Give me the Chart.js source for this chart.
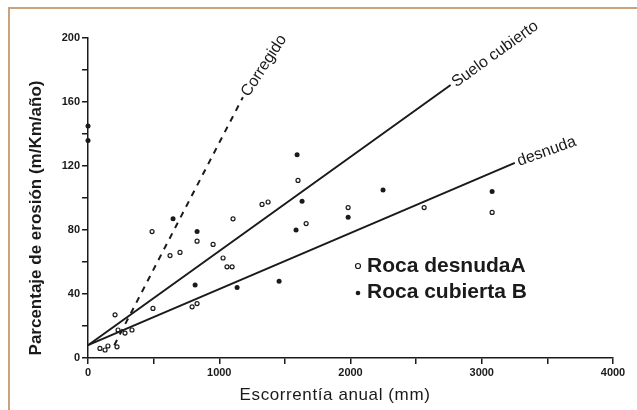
<!DOCTYPE html>
<html lang="es">
<head>
<meta charset="UTF-8">
<script src="https://cdn.jsdelivr.net/npm/chart.js@4.4.1/dist/chart.umd.min.js"></script>
<title>Erosión</title>
<style>
body { margin: 0; background: #fff; }
#wrap { position: relative; width: 637px; height: 410px; }
#frame {
    position: absolute; left: 8px; top: 7px; right: 0; bottom: 0;
    border-top: 2px solid #c9a47a; border-left: 2px solid #c9a47a;
    pointer-events: none;
}
</style>
</head>
<body>
<div id="wrap">
    <canvas id="chart" width="637" height="410"></canvas>
    <div id="frame"></div>
</div>
<script>
// ejes
var xTicks = [0, 1000, 2000, 3000, 4000];
var yTicks = [0, 40, 80, 120, 160, 200];

// rectas (x en mm, y en m/Km/año)
var corregidoX = [200, 1180];
var corregidoY = [8, 163];
var cubiertoX = [0, 2763];
var cubiertoY = [8, 170.6];
var desnudaX = [0, 3252];
var desnudaY = [8, 122];

// puntos
var rocaDesnudaA = [
    [206, 27], [229, 17.5], [282, 15.6], [335, 17.5], [221, 7], [130, 5], [152, 7.5], [91, 6],
    [495, 31], [793, 32], [831, 34], [488, 79], [625, 64], [701, 66], [953, 71], [1029, 62.5],
    [1059, 57], [1098, 57], [831, 73], [1105, 87], [1326, 96], [1372, 97.5], [1600, 111],
    [1982, 94], [1662, 84], [3079, 91], [2561, 94]
];
var rocaCubiertaB = [
    [0, 145], [0, 136], [648, 87], [816, 45.6], [831, 79], [1136, 44], [1593, 127], [1631, 98],
    [1585, 80], [1456, 48], [1982, 88], [2248, 105], [3079, 104]
];

var lineLabels = ["Corregido", "Suelo cubierto", "desnuda"];
var legendLabels = ["Roca desnudaA", "Roca cubierta B"];
var xTitle = "Escorrentía anual (mm)";
var yTitle = "Parcentaje de erosión (m/Km/año)";

function pairs(xs, ys) {
    var out = [];
    for (var i = 0; i < xs.length; i++) out.push({x: xs[i], y: ys[i]});
    return out;
}
function pts(arr) {
    return arr.map(function (p) { return {x: p[0], y: p[1]}; });
}

var ink = "#1a1a1a";
var fontFam = "'Liberation Sans', Arial, sans-serif";

var extras = {
    id: 'extras',
    afterDraw: function (chart) {
        var ctx = chart.ctx;
        var xs = chart.scales.x, ys = chart.scales.y;
        ctx.save();
        ctx.fillStyle = ink;

        // etiquetas de las rectas
        var lbl = [
            {i: 0, size: 16, dx: 2, dy: -2, extra: 0.1},
            {i: 1, size: 16, dx: 3, dy: -1, extra: 0},
            {i: 2, size: 16, dx: 3, dy: -1, extra: 0.06}
        ];
        lbl.forEach(function (l) {
            var d = chart.data.datasets[l.i].data;
            var a = d[0], b = d[d.length - 1];
            var x0 = xs.getPixelForValue(a.x), y0 = ys.getPixelForValue(a.y);
            var x1 = xs.getPixelForValue(b.x), y1 = ys.getPixelForValue(b.y);
            var ang = Math.atan2(y1 - y0, x1 - x0) + l.extra;
            ctx.save();
            ctx.translate(x1 + l.dx, y1 + l.dy);
            ctx.rotate(ang);
            ctx.font = l.size + "px " + fontFam;
            ctx.textAlign = "left";
            ctx.textBaseline = "middle";
            ctx.fillText(lineLabels[l.i], 0, 0);
            ctx.restore();
        });

        // leyenda
        ctx.font = "bold 21px " + fontFam;
        ctx.textBaseline = "middle";
        ctx.textAlign = "left";
        ctx.fillText(legendLabels[0], 367, 266);
        ctx.fillText(legendLabels[1], 367, 292);
        ctx.beginPath();
        ctx.arc(358, 266, 2.5, 0, Math.PI * 2);
        ctx.lineWidth = 1.2;
        ctx.strokeStyle = ink;
        ctx.stroke();
        ctx.beginPath();
        ctx.arc(358, 293, 2.3, 0, Math.PI * 2);
        ctx.fill();

        // títulos de los ejes
        ctx.font = "17px " + fontFam;
        ctx.letterSpacing = "0.6px";
        ctx.textAlign = "center";
        ctx.fillText(xTitle, 335, 395);
        ctx.letterSpacing = "0px";
        ctx.save();
        ctx.translate(36, 218);
        ctx.rotate(-Math.PI / 2);
        ctx.font = "bold 17px " + fontFam;
        ctx.fillText(yTitle, 0, 0);
        ctx.restore();

        ctx.restore();
    }
};

var lineStyle = {showLine: true, pointRadius: 0, borderColor: ink, borderWidth: 2, clip: false, fill: false};

new Chart(document.getElementById("chart"), {
    type: 'scatter',
    data: {
        datasets: [
            Object.assign({label: lineLabels[0], data: pairs(corregidoX, corregidoY), borderDash: [6, 6]}, lineStyle),
            Object.assign({label: lineLabels[1], data: pairs(cubiertoX, cubiertoY)}, lineStyle),
            Object.assign({label: lineLabels[2], data: pairs(desnudaX, desnudaY)}, lineStyle),
            {
                label: legendLabels[0], data: pts(rocaDesnudaA), pointRadius: 2,
                pointBackgroundColor: "#fff", pointBorderColor: ink, pointBorderWidth: 1.2, clip: false
            },
            {
                label: legendLabels[1], data: pts(rocaCubiertaB), pointRadius: 2.5,
                pointBackgroundColor: ink, pointBorderColor: ink, pointBorderWidth: 0, clip: false
            }
        ]
    },
    options: {
        responsive: false,
        animation: false,
        devicePixelRatio: 1,
        layout: {padding: {top: 38, right: 24, left: 0, bottom: 0}},
        plugins: {legend: {display: false}, tooltip: {enabled: false}},
        scales: {
            x: {
                type: 'linear', min: 0, max: 4000,
                afterFit: function (s) { s.height = 52; },
                afterBuildTicks: function (s) {
                    var t = [];
                    for (var v = 0; v <= 4000; v += 500) t.push({value: v});
                    s.ticks = t;
                },
                ticks: {
                    autoSkip: false, maxRotation: 0, padding: 2, color: ink,
                    font: {size: 11, family: fontFam, weight: 'bold'},
                    callback: function (v) { return xTicks.indexOf(v) >= 0 ? String(v) : ''; }
                },
                grid: {drawOnChartArea: false, tickLength: 6, color: ink, lineWidth: 1.5},
                border: {color: ink, width: 1.5}
            },
            y: {
                min: 0, max: 200,
                afterFit: function (s) { s.width = 88; },
                afterBuildTicks: function (s) {
                    var t = [];
                    for (var v = 0; v <= 200; v += 20) t.push({value: v});
                    s.ticks = t;
                },
                ticks: {
                    autoSkip: false, padding: 2, color: ink,
                    font: {size: 11, family: fontFam, weight: 'bold'},
                    callback: function (v) { return yTicks.indexOf(v) >= 0 ? String(v) : ''; }
                },
                grid: {drawOnChartArea: false, tickLength: 6, color: ink, lineWidth: 1.5},
                border: {color: ink, width: 1.5}
            }
        }
    },
    plugins: [extras]
});
</script>
</body>
</html>
